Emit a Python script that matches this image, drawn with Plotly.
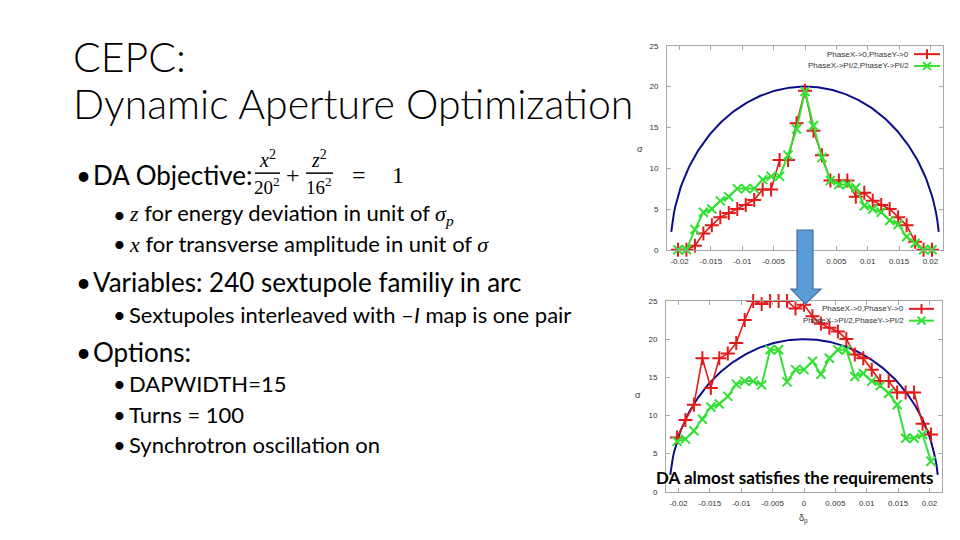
import plotly.graph_objects as go
import numpy as np

W, H = 960, 540

# ---------------- data ----------------
delta_p = [-0.02025, -0.0189, -0.01755, -0.0162, -0.01485, -0.0135, -0.01215, -0.0108,
           -0.00945, -0.0081, -0.00675, -0.0054, -0.00405, -0.0027, -0.00135, 0.0,
           0.00135, 0.0027, 0.00405, 0.0054, 0.00675, 0.0081, 0.00945, 0.0108,
           0.01215, 0.0135, 0.01485, 0.0162, 0.01755, 0.0189, 0.02025]

top_phase0 = [0, 0, 0.5, 2.0, 3.0, 4.0, 4.5, 5.0, 5.5, 6.1, 7.4, 7.4, 11.0, 11.0, 15.5,
              19.5,
              14.6, 11.6, 8.5, 8.5, 8.5, 6.5, 7.0, 6.0, 5.5, 5.0, 4.0, 3.0, 1.0, 0, 0]
top_phasepi2 = [0, 0, 2.5, 4.6, 5.0, 6.0, 6.5, 7.5, 7.5, 7.5, 8.6, 9.0, 9.0, 11.6, 14.8,
                19.4,
                15.2, 11.3, 8.5, 8.0, 8.0, 7.6, 5.4, 5.0, 4.6, 3.6, 3.1, 1.6, 0.8, 0, 0]

bot_phase0 = [7.1, 9.4, 11.4, 17.5, 13.6, 17.5, 18.1, 19.5, 22.5, 25.0, 24.6, 25.0, 25.0, 25.0, 24.0,
              24.5,
              23.0, 22.0, 21.5, 21.0, 20.0, 18.0, 17.5, 16.0, 14.5, 14.5, 13.0, 13.0, 13.0, 8.9, 7.5]
bot_phasepi2 = [6.6, 6.9, 8.0, 9.5, 11.1, 11.5, 12.5, 14.1, 14.5, 14.5, 14.0, 18.6, 18.6, 14.4, 16.0,
                16.0,
                17.1, 15.4, 17.5, 18.6, 18.6, 15.1, 15.5, 14.5, 13.9, 12.9, 11.4, 7.0, 7.0, 7.5, 4.0]

# DA objective ellipse parameters (x amplitude in sigma, momentum half-width)
obj_x_max = 20.0
obj_dp_max = 0.02145
obj_dp_span = 0.02132

x_ticks = [-0.02, -0.015, -0.01, -0.005, 0, 0.005, 0.01, 0.015, 0.02]
x_tick_text = ["-0.02", "-0.015", "-0.01", "-0.005", "0", "0.005", "0.01", "0.015", "0.02"]
y_ticks = [0, 5, 10, 15, 20, 25]
legend_names = ["PhaseX->0,PhaseY->0", "PhaseX->PI/2,PhaseY->PI/2"]

ell_dp = np.linspace(-obj_dp_span, obj_dp_span, 200)
ell_x = obj_x_max * np.sqrt(np.clip(1 - (ell_dp / obj_dp_max) ** 2, 0, None))

RED = "#e31a1a"
GREEN = "#33e033"
BLUE = "#0d0d8c"


def px(x):
    return x / W


def py(y):
    return 1 - y / H


fig = go.Figure()

for xa, ya, r0, r1 in [("x", "y", top_phase0, top_phasepi2), ("x2", "y2", bot_phase0, bot_phasepi2)]:
    fig.add_trace(go.Scatter(x=ell_dp, y=ell_x, mode="lines", line=dict(color=BLUE, width=2),
                             xaxis=xa, yaxis=ya, showlegend=False, hoverinfo="skip"))
    fig.add_trace(go.Scatter(x=delta_p, y=r0, mode="lines+markers", name=legend_names[0],
                             line=dict(color=RED, width=1.6), cliponaxis=False,
                             marker=dict(symbol="cross-thin", size=10, line=dict(color=RED, width=2)),
                             xaxis=xa, yaxis=ya, showlegend=False))
    fig.add_trace(go.Scatter(x=delta_p, y=r1, mode="lines+markers", name=legend_names[1],
                             line=dict(color=GREEN, width=2), cliponaxis=False,
                             marker=dict(symbol="x-thin", size=9, line=dict(color=GREEN, width=2)),
                             xaxis=xa, yaxis=ya, showlegend=False))

axis_common = dict(showline=True, linecolor="#a8a8a8", linewidth=1, mirror="ticks",
                   ticks="inside", ticklen=4, tickcolor="#a8a8a8", showgrid=False, zeroline=False,
                   tickfont=dict(family="Liberation Sans", size=8, color="#333333"))

fig.update_layout(
    width=W, height=H, margin=dict(l=0, r=0, t=0, b=0),
    paper_bgcolor="white", plot_bgcolor="white", showlegend=False,
    xaxis=dict(domain=[px(667), px(943)], range=[-0.022, 0.022], tickvals=x_ticks,
               ticktext=x_tick_text, anchor="y", ticklabelstandoff=4, **axis_common),
    yaxis=dict(domain=[py(250), py(42.5)], range=[0, 25], tickvals=y_ticks, anchor="x",
               ticklabelstandoff=6, **axis_common),
    xaxis2=dict(domain=[px(666), px(942)], range=[-0.022, 0.022], tickvals=x_ticks,
                ticktext=x_tick_text, anchor="y2", ticklabelstandoff=4, **axis_common),
    yaxis2=dict(domain=[py(496), py(302)], range=[0, 25], tickvals=y_ticks, anchor="x2",
                ticklabelstandoff=6, **axis_common),
)

ann = []
shapes = []


def text(x, y, s, size, family="Lato", color="black", xanchor="left", weight=None):
    f = dict(family=family, size=size, color=color)
    if weight is not None:
        f["weight"] = weight
    ann.append(dict(x=px(x), y=py(y), xref="paper", yref="paper", text=s, showarrow=False,
                    xanchor=xanchor, yanchor="middle", font=f))


# Title
text(71, 53, "CEPC:", 41, weight=300)
text(71, 101, "Dynamic Aperture Optimization", 41, weight=300)

SERIF = "Liberation Serif"
MAIN = 26
SUB = 22
# Main bullets and sub bullets
text(74, 174, "•", MAIN)
text(91, 174, "DA Objective:", MAIN)
text(267, 158, "<i>x</i><sup>2</sup>", 20, family=SERIF, xanchor="center")
text(267, 185, "20<sup>2</sup>", 19, family=SERIF, xanchor="center")
shapes.append(dict(type="line", xref="paper", yref="paper", x0=px(255), x1=px(280), y0=py(172), y1=py(172),
                   line=dict(color="black", width=1.5)))
text(293, 174, "+", 24, family=SERIF, xanchor="center")
text(319, 158, "<i>z</i><sup>2</sup>", 20, family=SERIF, xanchor="center")
text(319, 185, "16<sup>2</sup>", 19, family=SERIF, xanchor="center")
shapes.append(dict(type="line", xref="paper", yref="paper", x0=px(306), x1=px(333), y0=py(172), y1=py(172),
                   line=dict(color="black", width=1.5)))
text(359, 174, "=", 24, family=SERIF, xanchor="center")
text(398, 174, "1", 24, family=SERIF, xanchor="center")

text(111, 214, "•", SUB)
text(127, 214, "<span style='font-family:Liberation Serif'><i>z</i></span> for energy deviation in unit of "
               "<span style='font-family:Liberation Serif'><i>σ<sub>p</sub></i></span>", SUB)
text(111, 244, "•", SUB)
text(127, 244, "<span style='font-family:Liberation Serif'><i>x</i></span> for transverse amplitude in unit of "
               "<span style='font-family:Liberation Serif'><i>σ</i></span>", SUB)
text(74, 283, "•", MAIN)
text(91, 283, "Variables: 240 sextupole familiy in arc", MAIN)
text(111, 316, "•", SUB)
text(127, 316, "Sextupoles interleaved with –<i>I</i> map is one pair", SUB)
text(74, 354, "•", MAIN)
text(91, 354, "Options:", MAIN)
text(111, 386, "•", SUB)
text(127, 386, "DAPWIDTH=15", SUB)
text(111, 417, "•", SUB)
text(127, 417, "Turns = 100", SUB)
text(111, 448, "•", SUB)
text(127, 448, "Synchrotron oscillation on", SUB)

# chart axis labels
text(640, 147, "σ", 9, family="Liberation Sans", color="#333333", xanchor="center")
text(638, 398, "σ", 9, family="Liberation Sans", color="#333333", xanchor="center")
text(803, 524, "δ<sub>p</sub>", 9, family="Liberation Sans", color="#333333", xanchor="center")

# custom legends (text right aligned, sample on the right)
leg_specs = [
    (911, 51, 914, 940, 0), (911, 63, 914, 940, 1),
    (906, 310, 909, 934, 0), (906, 322, 909, 934, 1),
]
for (tx, ty, lx0, lx1, idx) in leg_specs:
    text(tx, ty, legend_names[idx], 8, family="Liberation Sans", color="#333333", xanchor="right")
    col = RED if idx == 0 else GREEN
    shapes.append(dict(type="line", xref="paper", yref="paper", x0=px(lx0), x1=px(lx1), y0=py(ty), y1=py(ty),
                       line=dict(color=col, width=2)))
    mx = (lx0 + lx1) / 2
    if idx == 0:
        shapes.append(dict(type="line", xref="paper", yref="paper", x0=px(mx), x1=px(mx), y0=py(ty - 5),
                           y1=py(ty + 5), line=dict(color=col, width=2)))
    else:
        shapes.append(dict(type="line", xref="paper", yref="paper", x0=px(mx - 4), x1=px(mx + 4), y0=py(ty - 4),
                           y1=py(ty + 4), line=dict(color=col, width=2)))
        shapes.append(dict(type="line", xref="paper", yref="paper", x0=px(mx - 4), x1=px(mx + 4), y0=py(ty + 4),
                           y1=py(ty - 4), line=dict(color=col, width=2)))

# blue arrow
arrow_pts = [(797, 230), (813, 230), (813, 290), (821, 290), (805.5, 305), (791, 290), (797, 290)]
path = "M " + " L ".join(f"{px(a):.5f},{py(b):.5f}" for a, b in arrow_pts) + " Z"
shapes.append(dict(type="path", xref="paper", yref="paper", path=path, fillcolor="#5b9bd5",
                   line=dict(color="#41719c", width=1.2), layer="above"))

# caption
text(795, 482, "DA almost satisfies the requirements", 17, weight=700, xanchor="center")

fig.update_layout(annotations=ann, shapes=shapes)
fig.write_html("out.html")
